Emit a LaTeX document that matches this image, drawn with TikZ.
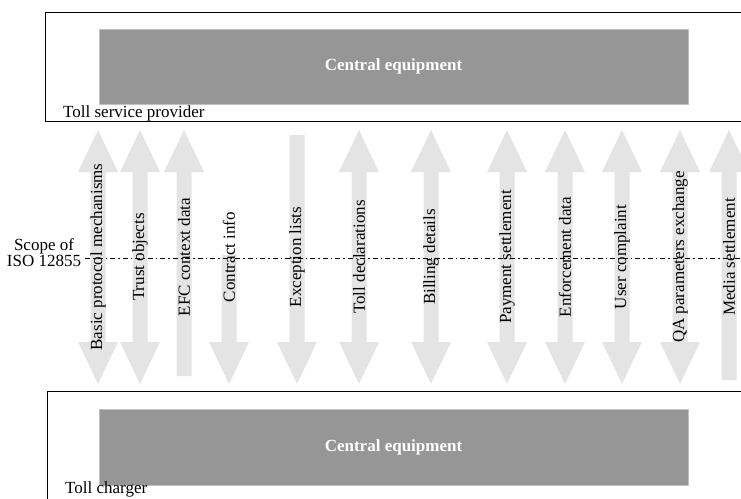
\documentclass[tikz,border=0pt]{standalone}
\usepackage{fontspec}
\setmainfont{Liberation Serif}
\definecolor{arrowfill}{HTML}{E4E4E4}
\definecolor{equipfill}{HTML}{969696}
\tikzset{
  frame/.style={draw, line width=1.2pt, minimum width=720, anchor=north west, inner sep=0},
  equip/.style={fill=equipfill, draw=equipfill!60, minimum width=589, text=white, font=\bfseries\fontsize{17}{20}\selectfont},
  party/.style={anchor=base west, inner sep=0, font=\fontsize{17}{20}\selectfont},
  flow/.style={rotate=90, inner sep=0, font=\fontsize{17}{20}\selectfont},
  scopeline/.style={line width=0.7pt, dash pattern=on 5pt off 3pt on 1.5pt off 3pt},
}

\begin{document}
\begin{tikzpicture}[x=1pt,y=-1pt]
\useasboundingbox (0,0) rectangle (741,498);
\clip (0,0) rectangle (741,498);
% the two operators
\node[frame, minimum height=109] (tsp) at (45,12) {};
\node[frame, minimum height=120] (tc) at (47,391) {};
\node[equip, minimum height=75] (cetop) at (393.5,66.5) {Central equipment};
\node[equip, minimum height=76] (cebot) at (393.5,447) {Central equipment};
\node[party] (tsplabel) at (63,117) {Toll service provider};
\node[party] (tclabel) at (65,493) {Toll charger};
% exchanges in both directions
\foreach \xc in {98,140,359,431,507,565,622,680}{
	\fill[arrowfill] (\xc,130) -- (\xc+20,172) -- (\xc+7.5,172) -- (\xc+7.5,342) -- (\xc+20,342) -- (\xc,384)
		-- (\xc-20,342) -- (\xc-7.5,342) -- (\xc-7.5,172) -- (\xc-20,172) -- cycle;
	}
% towards the toll service provider only
\foreach \xc/\yb in {184/376,729/380}{
	\fill[arrowfill] (\xc,130) -- (\xc+20,172) -- (\xc+7.5,172) -- (\xc+7.5,\yb) -- (\xc-7.5,\yb)
		-- (\xc-7.5,172) -- (\xc-20,172) -- cycle;
	}
% towards the toll charger only
\foreach \xc/\yt in {229/255,297/135}{
	\fill[arrowfill] (\xc-7.5,\yt) -- (\xc+7.5,\yt) -- (\xc+7.5,342) -- (\xc+20,342) -- (\xc,384)
		-- (\xc-20,342) -- (\xc-7.5,342) -- cycle;
	}
% scope
\node[align=center, inner ysep=0, inner xsep=4pt, font=\fontsize{17}{16}\selectfont] (scope) at (44,253) {Scope of\\ISO 12855};
\coordinate (scopeend) at (741,258);
\draw[scopeline] (scope.east |- scopeend) -- (scopeend);
\foreach \xc/\nm/\txt in {98/bpm/Basic protocol mechanisms, 140/tro/Trust objects, 184/efc/EFC context data,
	229/ci/Contract info, 297/el/Exception lists, 359/td/Toll declarations, 431/bd/Billing details,
	507/ps/Payment settlement, 565/ed/Enforcement data, 622/uc/User complaint,
	680/qa/QA parameters exchange, 729/ms/Media settlement}{
	\node[flow] (\nm) at (\xc,257) {\txt};
	}
\end{tikzpicture}
\end{document}
